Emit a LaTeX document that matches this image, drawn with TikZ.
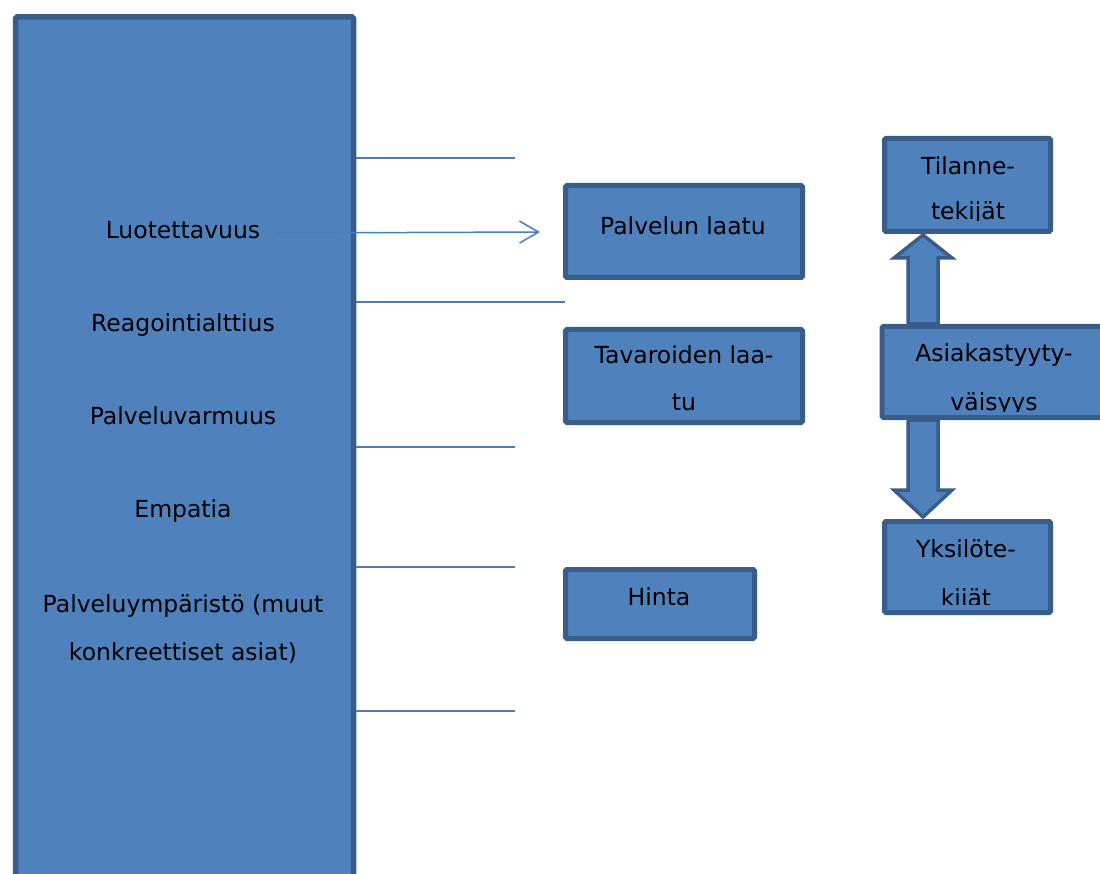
\documentclass[tikz,border=0pt]{standalone}
\usepackage{fontspec}
\setmainfont{DejaVu Sans}
\usetikzlibrary{arrows.meta}
\definecolor{fillc}{HTML}{4F81BD}
\definecolor{bord}{HTML}{385D8A}
\definecolor{linec}{HTML}{4A7EBB}
\begin{document}
\begin{tikzpicture}[x=1pt,y=-1pt,
  box/.style={draw=bord, fill=fillc, line width=5pt, rounded corners=1.5pt, inner sep=0pt},
  lbl/.style={anchor=base, inner sep=0pt, font=\fontsize{23.5}{28}\selectfont, text=black},
  thin/.style={draw=linec, line width=1.5pt},
  blockarr/.style={fill=fillc, draw=bord, line width=3.5pt, line join=miter}]
\useasboundingbox (0,0) rectangle (1100,874);
% big left rectangle
\node[box, line width=5.5pt, minimum width=338pt, minimum height=900pt] (big) at (184.5,467) {};
% boxes
\node[box, minimum width=237pt, minimum height=92pt] (pl) at (684,231.5) {};
\node[box, minimum width=237pt, minimum height=93pt] (tl) at (684,376) {};
\node[box, minimum width=189pt, minimum height=69pt] (hi) at (660,604) {};
\node[box, minimum width=166pt, minimum height=93pt] (ti) at (967.5,185) {};
\node[box, minimum width=224pt, minimum height=91pt] (as) at (994,372) {};
\node[box, minimum width=166pt, minimum height=91pt] (yk) at (967.5,567) {};
% block arrows
\draw[blockarr] (908,324) -- (908,258) -- (894,258) -- (923,235) -- (952,258) -- (938,258) -- (938,324) -- cycle;
\draw[blockarr] (908,420) -- (908,490) -- (894,490) -- (923,517) -- (952,490) -- (938,490) -- (938,420) -- cycle;
% thin lines
\coordinate (e1) at (515,158);
\coordinate (e2) at (565,302);
\coordinate (e3) at (515,447);
\coordinate (e4) at (515,567);
\coordinate (e5) at (515,711);
\foreach \e in {e1,e2,e3,e4,e5}{\draw[thin] (big.east |- \e) -- (\e);}
\coordinate (a0) at (275,233);
\coordinate (a1) at (540,232);
\draw[thin, -{Straight Barb[length=19pt,width=22pt,line width=1.5pt]}] (a0) -- (a1);
% left labels
\node[lbl] (t1) at (183,239) {Luotettavuus};
\node[lbl] (t2) at (183,332) {Reagointialttius};
\node[lbl] (t3) at (183,424) {Palveluvarmuus};
\node[lbl] (t4) at (183,517) {Empatia};
\node[lbl] (t5) at (183,612) {Palveluympäristö (muut};
\node[lbl] (t6) at (183,660) {konkreettiset asiat)};
% box texts
\node[lbl] (p1) at (683,235) {Palvelun laatu};
\node[lbl] (v1) at (684,363) {Tavaroiden laa-};
\node[lbl] (v2) at (684,410) {tu};
\node[lbl] (h1) at (659,605) {Hinta};
\node[lbl] (s1) at (968,175) {Tilanne-};
\begin{scope}\clip (880,180) rectangle (1060,221);
\node[lbl] (s2) at (968,220) {tekijät};
\end{scope}
\node[lbl] (y1) at (994,362) {Asiakastyyty-};
\begin{scope}\clip (880,370) rectangle (1100,411);
\node[lbl] (y2) at (994,410) {väisyys};
\end{scope}
\node[lbl] (k1) at (966,557) {Yksilöte-};
\begin{scope}\clip (880,560) rectangle (1060,604);
\node[lbl] (k2) at (966,606) {kijät};
\end{scope}
\end{tikzpicture}
\end{document}
